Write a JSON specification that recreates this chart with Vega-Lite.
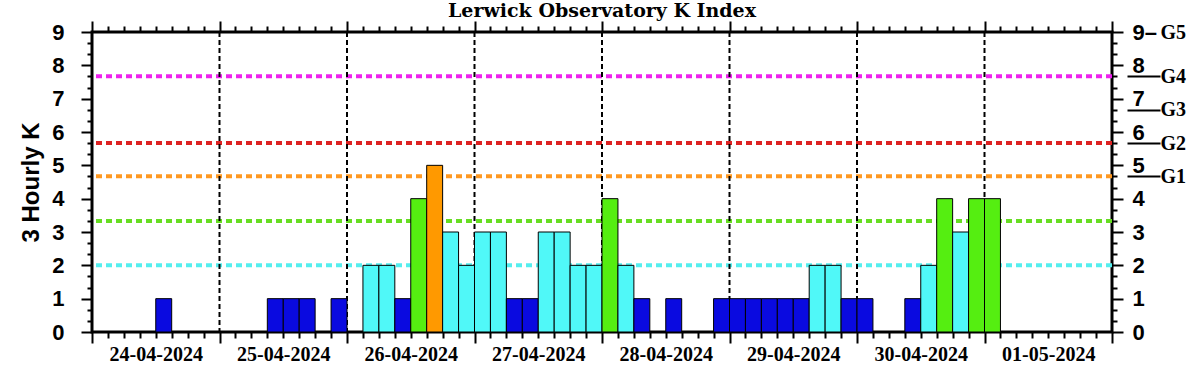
{
  "$schema": "https://vega.github.io/schema/vega-lite/v6.json",
  "width": 1020,
  "height": 300,
  "autosize": "none",
  "padding": {"left": 92, "top": 32, "right": 90, "bottom": 43},
  "background": "white",
  "title": {"text": "Lerwick Observatory K Index", "font": "DejaVu Serif", "fontSize": 19, "fontWeight": "bold", "color": "black", "anchor": "middle", "offset": -1},
  "config": {
    "view": {"stroke": "black", "strokeWidth": 3},
    "axis": {"grid": false, "domain": false, "tickColor": "black", "tickWidth": 2, "labelColor": "black", "titleColor": "black"}
  },
  "datasets": {
    "thresholds": [
      {"level": "unsettled", "k": 2},
      {"level": "active", "k": 3.33},
      {"level": "minor storm", "k": 4.67},
      {"level": "moderate storm", "k": 5.67},
      {"level": "severe storm", "k": 7.67}
    ],
    "days": [
      {"day": "2024-04-25T00:00:00Z"},
      {"day": "2024-04-26T00:00:00Z"},
      {"day": "2024-04-27T00:00:00Z"},
      {"day": "2024-04-28T00:00:00Z"},
      {"day": "2024-04-29T00:00:00Z"},
      {"day": "2024-04-30T00:00:00Z"},
      {"day": "2024-05-01T00:00:00Z"}
    ],
    "kindex": [
      {"t0": "2024-04-24T00:00:00Z", "t1": "2024-04-24T03:00:00Z", "k": 0},
      {"t0": "2024-04-24T03:00:00Z", "t1": "2024-04-24T06:00:00Z", "k": 0},
      {"t0": "2024-04-24T06:00:00Z", "t1": "2024-04-24T09:00:00Z", "k": 0},
      {"t0": "2024-04-24T09:00:00Z", "t1": "2024-04-24T12:00:00Z", "k": 0},
      {"t0": "2024-04-24T12:00:00Z", "t1": "2024-04-24T15:00:00Z", "k": 1},
      {"t0": "2024-04-24T15:00:00Z", "t1": "2024-04-24T18:00:00Z", "k": 0},
      {"t0": "2024-04-24T18:00:00Z", "t1": "2024-04-24T21:00:00Z", "k": 0},
      {"t0": "2024-04-24T21:00:00Z", "t1": "2024-04-25T00:00:00Z", "k": 0},
      {"t0": "2024-04-25T00:00:00Z", "t1": "2024-04-25T03:00:00Z", "k": 0},
      {"t0": "2024-04-25T03:00:00Z", "t1": "2024-04-25T06:00:00Z", "k": 0},
      {"t0": "2024-04-25T06:00:00Z", "t1": "2024-04-25T09:00:00Z", "k": 0},
      {"t0": "2024-04-25T09:00:00Z", "t1": "2024-04-25T12:00:00Z", "k": 1},
      {"t0": "2024-04-25T12:00:00Z", "t1": "2024-04-25T15:00:00Z", "k": 1},
      {"t0": "2024-04-25T15:00:00Z", "t1": "2024-04-25T18:00:00Z", "k": 1},
      {"t0": "2024-04-25T18:00:00Z", "t1": "2024-04-25T21:00:00Z", "k": 0},
      {"t0": "2024-04-25T21:00:00Z", "t1": "2024-04-26T00:00:00Z", "k": 1},
      {"t0": "2024-04-26T00:00:00Z", "t1": "2024-04-26T03:00:00Z", "k": 0},
      {"t0": "2024-04-26T03:00:00Z", "t1": "2024-04-26T06:00:00Z", "k": 2},
      {"t0": "2024-04-26T06:00:00Z", "t1": "2024-04-26T09:00:00Z", "k": 2},
      {"t0": "2024-04-26T09:00:00Z", "t1": "2024-04-26T12:00:00Z", "k": 1},
      {"t0": "2024-04-26T12:00:00Z", "t1": "2024-04-26T15:00:00Z", "k": 4},
      {"t0": "2024-04-26T15:00:00Z", "t1": "2024-04-26T18:00:00Z", "k": 5},
      {"t0": "2024-04-26T18:00:00Z", "t1": "2024-04-26T21:00:00Z", "k": 3},
      {"t0": "2024-04-26T21:00:00Z", "t1": "2024-04-27T00:00:00Z", "k": 2},
      {"t0": "2024-04-27T00:00:00Z", "t1": "2024-04-27T03:00:00Z", "k": 3},
      {"t0": "2024-04-27T03:00:00Z", "t1": "2024-04-27T06:00:00Z", "k": 3},
      {"t0": "2024-04-27T06:00:00Z", "t1": "2024-04-27T09:00:00Z", "k": 1},
      {"t0": "2024-04-27T09:00:00Z", "t1": "2024-04-27T12:00:00Z", "k": 1},
      {"t0": "2024-04-27T12:00:00Z", "t1": "2024-04-27T15:00:00Z", "k": 3},
      {"t0": "2024-04-27T15:00:00Z", "t1": "2024-04-27T18:00:00Z", "k": 3},
      {"t0": "2024-04-27T18:00:00Z", "t1": "2024-04-27T21:00:00Z", "k": 2},
      {"t0": "2024-04-27T21:00:00Z", "t1": "2024-04-28T00:00:00Z", "k": 2},
      {"t0": "2024-04-28T00:00:00Z", "t1": "2024-04-28T03:00:00Z", "k": 4},
      {"t0": "2024-04-28T03:00:00Z", "t1": "2024-04-28T06:00:00Z", "k": 2},
      {"t0": "2024-04-28T06:00:00Z", "t1": "2024-04-28T09:00:00Z", "k": 1},
      {"t0": "2024-04-28T09:00:00Z", "t1": "2024-04-28T12:00:00Z", "k": 0},
      {"t0": "2024-04-28T12:00:00Z", "t1": "2024-04-28T15:00:00Z", "k": 1},
      {"t0": "2024-04-28T15:00:00Z", "t1": "2024-04-28T18:00:00Z", "k": 0},
      {"t0": "2024-04-28T18:00:00Z", "t1": "2024-04-28T21:00:00Z", "k": 0},
      {"t0": "2024-04-28T21:00:00Z", "t1": "2024-04-29T00:00:00Z", "k": 1},
      {"t0": "2024-04-29T00:00:00Z", "t1": "2024-04-29T03:00:00Z", "k": 1},
      {"t0": "2024-04-29T03:00:00Z", "t1": "2024-04-29T06:00:00Z", "k": 1},
      {"t0": "2024-04-29T06:00:00Z", "t1": "2024-04-29T09:00:00Z", "k": 1},
      {"t0": "2024-04-29T09:00:00Z", "t1": "2024-04-29T12:00:00Z", "k": 1},
      {"t0": "2024-04-29T12:00:00Z", "t1": "2024-04-29T15:00:00Z", "k": 1},
      {"t0": "2024-04-29T15:00:00Z", "t1": "2024-04-29T18:00:00Z", "k": 2},
      {"t0": "2024-04-29T18:00:00Z", "t1": "2024-04-29T21:00:00Z", "k": 2},
      {"t0": "2024-04-29T21:00:00Z", "t1": "2024-04-30T00:00:00Z", "k": 1},
      {"t0": "2024-04-30T00:00:00Z", "t1": "2024-04-30T03:00:00Z", "k": 1},
      {"t0": "2024-04-30T03:00:00Z", "t1": "2024-04-30T06:00:00Z", "k": 0},
      {"t0": "2024-04-30T06:00:00Z", "t1": "2024-04-30T09:00:00Z", "k": 0},
      {"t0": "2024-04-30T09:00:00Z", "t1": "2024-04-30T12:00:00Z", "k": 1},
      {"t0": "2024-04-30T12:00:00Z", "t1": "2024-04-30T15:00:00Z", "k": 2},
      {"t0": "2024-04-30T15:00:00Z", "t1": "2024-04-30T18:00:00Z", "k": 4},
      {"t0": "2024-04-30T18:00:00Z", "t1": "2024-04-30T21:00:00Z", "k": 3},
      {"t0": "2024-04-30T21:00:00Z", "t1": "2024-05-01T00:00:00Z", "k": 4},
      {"t0": "2024-05-01T00:00:00Z", "t1": "2024-05-01T03:00:00Z", "k": 4}
    ],
    "gscale": [
      {"g": "G1", "k": 4.67},
      {"g": "G2", "k": 5.67},
      {"g": "G3", "k": 6.67},
      {"g": "G4", "k": 7.67},
      {"g": "G5", "k": 9}
    ]
  },
  "resolve": {"axis": {"x": "independent", "y": "independent"}, "scale": {"color": "independent"}},
  "layer": [
    {
      "data": {"name": "thresholds"},
      "mark": {"type": "rule", "strokeWidth": 4, "strokeDash": [6, 4]},
      "encoding": {
        "y": {
          "field": "k", "type": "quantitative",
          "scale": {"domain": [0, 9], "nice": false},
          "axis": {
            "orient": "left",
            "values": [0,0.3333,0.6667,1,1.3333,1.6667,2,2.3333,2.6667,3,3.3333,3.6667,4,4.3333,4.6667,5,5.3333,5.6667,6,6.3333,6.6667,7,7.3333,7.6667,8,8.3333,8.6667,9],
            "labelExpr": "datum.value % 1 === 0 ? format(datum.value, 'd') : ''",
            "tickSize": {"condition": {"test": "datum.value % 1 === 0", "value": 11}, "value": 5},
            "labelFont": "Liberation Sans", "labelFontSize": 22, "labelFontWeight": "bold",
            "labelPadding": 17,
            "title": "3 Hourly K",
            "titleFont": "Liberation Sans", "titleFontSize": 24, "titleFontWeight": "bold",
            "titlePadding": 8
          }
        },
        "color": {
          "field": "level", "type": "nominal", "legend": null,
          "scale": {"domain": ["unsettled", "active", "minor storm", "moderate storm", "severe storm"],
                    "range": ["#55eeee", "#66dd22", "#ff9922", "#dd2222", "#ee22ee"]}
        }
      }
    },
    {
      "data": {"name": "days"},
      "mark": {"type": "rule", "strokeWidth": 2, "strokeDash": [5, 3], "color": "black"},
      "encoding": {
        "x": {
          "field": "day", "type": "temporal",
          "scale": {"type": "utc", "domain": [1713916800000, 1714608000000]},
          "axis": {
            "orient": "bottom",
            "values": [1713916800000,1713927600000,1713938400000,1713949200000,1713960000000,1713970800000,1713981600000,1713992400000,1714003200000,1714014000000,1714024800000,1714035600000,1714046400000,1714057200000,1714068000000,1714078800000,1714089600000,1714100400000,1714111200000,1714122000000,1714132800000,1714143600000,1714154400000,1714165200000,1714176000000,1714186800000,1714197600000,1714208400000,1714219200000,1714230000000,1714240800000,1714251600000,1714262400000,1714273200000,1714284000000,1714294800000,1714305600000,1714316400000,1714327200000,1714338000000,1714348800000,1714359600000,1714370400000,1714381200000,1714392000000,1714402800000,1714413600000,1714424400000,1714435200000,1714446000000,1714456800000,1714467600000,1714478400000,1714489200000,1714500000000,1714510800000,1714521600000,1714532400000,1714543200000,1714554000000,1714564800000,1714575600000,1714586400000,1714597200000,1714608000000],
            "labelExpr": "utchours(datum.value) === 12 ? utcFormat(datum.value, '%d-%m-%Y') : ''",
            "tickSize": {"condition": {"test": "utchours(datum.value) === 0", "value": 11}, "value": 6},
            "labelOverlap": false, "labelFlush": false,
            "labelFont": "Liberation Serif", "labelFontSize": 20, "labelFontWeight": "bold",
            "labelPadding": 6,
            "title": null
          }
        }
      }
    },
    {
      "data": {"name": "kindex"},
      "mark": {"type": "bar", "stroke": "black", "strokeWidth": 1},
      "encoding": {
        "x": {
          "field": "t0", "type": "temporal",
          "axis": {
            "orient": "top",
            "values": [1713916800000,1713927600000,1713938400000,1713949200000,1713960000000,1713970800000,1713981600000,1713992400000,1714003200000,1714014000000,1714024800000,1714035600000,1714046400000,1714057200000,1714068000000,1714078800000,1714089600000,1714100400000,1714111200000,1714122000000,1714132800000,1714143600000,1714154400000,1714165200000,1714176000000,1714186800000,1714197600000,1714208400000,1714219200000,1714230000000,1714240800000,1714251600000,1714262400000,1714273200000,1714284000000,1714294800000,1714305600000,1714316400000,1714327200000,1714338000000,1714348800000,1714359600000,1714370400000,1714381200000,1714392000000,1714402800000,1714413600000,1714424400000,1714435200000,1714446000000,1714456800000,1714467600000,1714478400000,1714489200000,1714500000000,1714510800000,1714521600000,1714532400000,1714543200000,1714554000000,1714564800000,1714575600000,1714586400000,1714597200000,1714608000000],
            "labels": false,
            "tickSize": {"condition": {"test": "utchours(datum.value) === 0", "value": 11}, "value": 6},
            "title": null
          }
        },
        "x2": {"field": "t1"},
        "y": {
          "field": "k", "type": "quantitative",
          "axis": {
            "orient": "right",
            "values": [0,0.3333,0.6667,1,1.3333,1.6667,2,2.3333,2.6667,3,3.3333,3.6667,4,4.3333,4.6667,5,5.3333,5.6667,6,6.3333,6.6667,7,7.3333,7.6667,8,8.3333,8.6667,9],
            "labelExpr": "datum.value === 9 ? '9–' : datum.value % 1 === 0 ? format(datum.value, 'd') : ''",
            "tickSize": {"condition": {"test": "datum.value % 1 === 0", "value": 11}, "value": 5},
            "labelFont": "Liberation Sans", "labelFontSize": 22, "labelFontWeight": "bold",
            "labelPadding": 9,
            "title": null
          }
        },
        "y2": {"datum": 0},
        "color": {
          "field": "k", "type": "ordinal", "legend": null,
          "scale": {"domain": [0,1,2,3,4,5,6,7,8,9],
                    "range": ["#0a0ae0","#0a0ae0","#50f8f8","#50f8f8","#55ee11","#ff9900","#ee1111","#ee1111","#ee11ee","#ee11ee"]}
        }
      }
    },
    {
      "data": {"name": "gscale"},
      "mark": {"type": "point", "opacity": 0},
      "encoding": {
        "y": {
          "field": "k", "type": "quantitative",
          "axis": {
            "orient": "right",
            "offset": 15,
            "values": [4.67, 5.67, 6.67, 7.67, 9],
            "labelExpr": "'G' + (round(datum.value) - 4)",
            "tickSize": 33,
            "tickColor": {"condition": {"test": "datum.value === 9", "value": "transparent"}, "value": "black"},
            "labelPadding": 0,
            "labelFont": "Liberation Serif", "labelFontSize": 20, "labelFontWeight": "bold",
            "title": null
          }
        }
      }
    }
  ]
}
